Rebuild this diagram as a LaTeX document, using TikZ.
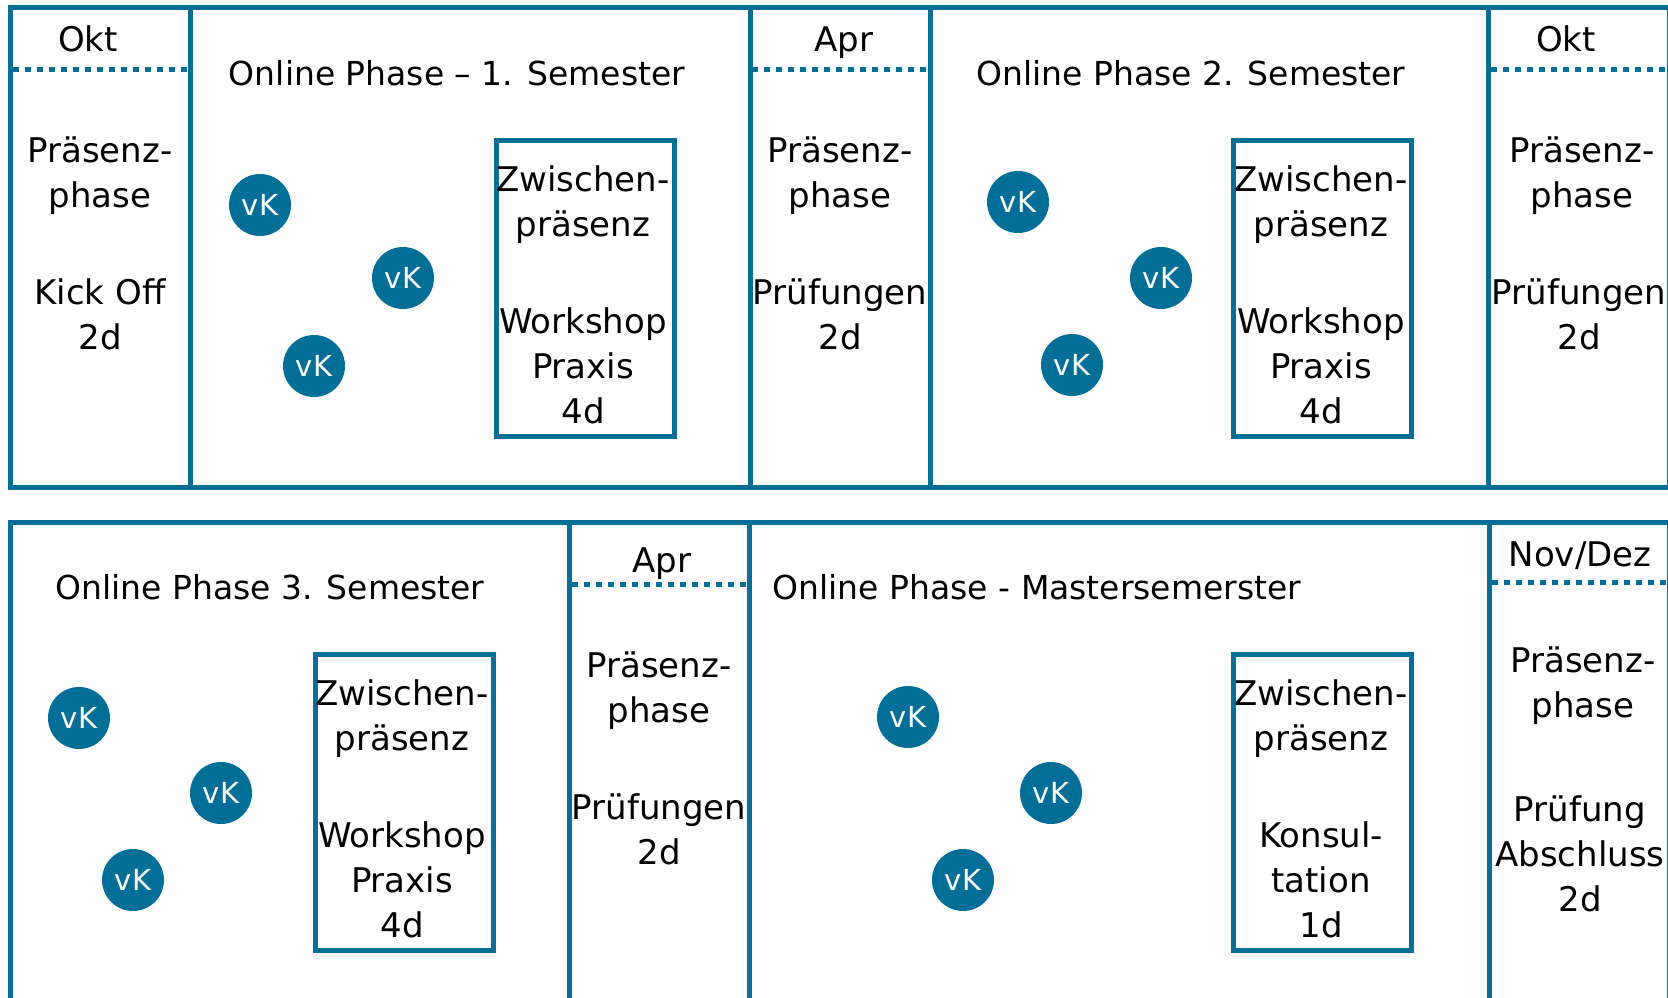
\documentclass[tikz,border=0pt]{standalone}
\usepackage{fontspec}
\setmainfont{DejaVu Sans}
\definecolor{framecol}{RGB}{0,111,151}
\newcommand\tstack[4]{\foreach \s [count=\i] in {#4} {\node[txt] (#1-\i) at (#2,{#3+45*\i-45}) {\s};}}
\begin{document}
\begin{tikzpicture}[x=1pt,y=-1pt,
  frameline/.style={draw=framecol,line width=5pt},
  dotline/.style={draw=framecol,line width=5pt,dash pattern=on 6pt off 6pt},
  vk/.style={circle,fill=framecol,minimum size=62pt,inner sep=0pt,text=white,font=\fontsize{29}{32}\selectfont},
  zbox/.style={draw=framecol,line width=5pt,minimum width=178pt,minimum height=296pt,inner sep=0pt},
  txt/.style={anchor=base,inner sep=0pt,font=\fontsize{34}{45}\selectfont},
  ttl/.style={anchor=base,inner sep=0pt,font=\fontsize{33}{45}\selectfont}]
\useasboundingbox (0,0) rectangle (1668,998);
\clip (0,0) rectangle (1668,998);
% ---------- top row ----------
\draw[frameline] (10,8) rectangle (1669,487);
\foreach \xx in {190,750,930,1488} {\draw[frameline] (\xx,8) -- (\xx,487);}
\draw[dotline] (13,70) -- (188,70);
\draw[dotline] (752,70) -- (928,70);
\draw[dotline] (1491,70) -- (1668,70);
\node[txt] (okt1) at (88,52) {Okt};
\node[txt] (apr1) at (844,52) {Apr};
\node[txt] (okt2) at (1566,52) {Okt};
\tstack{a1}{100}{162}{Präsenz-,phase}
\tstack{a2}{100}{304}{Kick Off,2d}
\node[ttl] (t1) at (457,85) {Online Phase – 1. Semester};
\node[vk] (v11) at (260,205) {vK};
\node[vk] (v12) at (403,278) {vK};
\node[vk] (v13) at (314,366) {vK};
\node[zbox] (b1) at (585,288) {};
\tstack{b1a}{583}{191}{Zwischen-,präsenz}
\tstack{b1b}{583}{333}{Workshop,Praxis,4d}
\tstack{c1}{840}{162}{Präsenz-,phase}
\tstack{c2}{840}{304}{Prüfungen,2d}
\node[ttl] (t2) at (1191,85) {Online Phase 2. Semester};
\node[vk] (v21) at (1018,202) {vK};
\node[vk] (v22) at (1161,278) {vK};
\node[vk] (v23) at (1072,365) {vK};
\node[zbox] (b2) at (1322,288) {};
\tstack{b2a}{1321}{191}{Zwischen-,präsenz}
\tstack{b2b}{1321}{333}{Workshop,Praxis,4d}
\tstack{e1}{1582}{162}{Präsenz-,phase}
\tstack{e2}{1579}{304}{Prüfungen,2d}
% ---------- bottom row ----------
\draw[frameline] (10,1005) -- (10,522) -- (1669,522) -- (1669,1005);
\foreach \xx in {569,749,1489} {\draw[frameline] (\xx,522) -- (\xx,1005);}
\draw[dotline] (572,584) -- (747,584);
\draw[dotline] (1492,582) -- (1668,582);
\node[ttl] (t3) at (270,599) {Online Phase 3. Semester};
\node[vk] (v31) at (79,718) {vK};
\node[vk] (v32) at (221,793) {vK};
\node[vk] (v33) at (133,880) {vK};
\node[zbox] (b3) at (404,802) {};
\tstack{b3a}{402}{705}{Zwischen-,präsenz}
\tstack{b3b}{402}{847}{Workshop,Praxis,4d}
\node[txt] (apr2) at (662,572) {Apr};
\tstack{f1}{659}{677}{Präsenz-,phase}
\tstack{f2}{659}{819}{Prüfungen,2d}
\node[ttl] (t4) at (1037,599) {Online Phase - Mastersemerster};
\node[vk] (v41) at (908,717) {vK};
\node[vk] (v42) at (1051,793) {vK};
\node[vk] (v43) at (963,880) {vK};
\node[zbox] (b4) at (1322,802) {};
\tstack{b4a}{1321}{705}{Zwischen-,präsenz}
\tstack{b4b}{1321}{847}{Konsul-,tation,1d}
\node[txt] (nov) at (1580,566) {Nov/Dez};
\tstack{g1}{1583}{672}{Präsenz-,phase}
\tstack{g2}{1580}{821}{Prüfung,Abschluss,2d}
\end{tikzpicture}
\end{document}
